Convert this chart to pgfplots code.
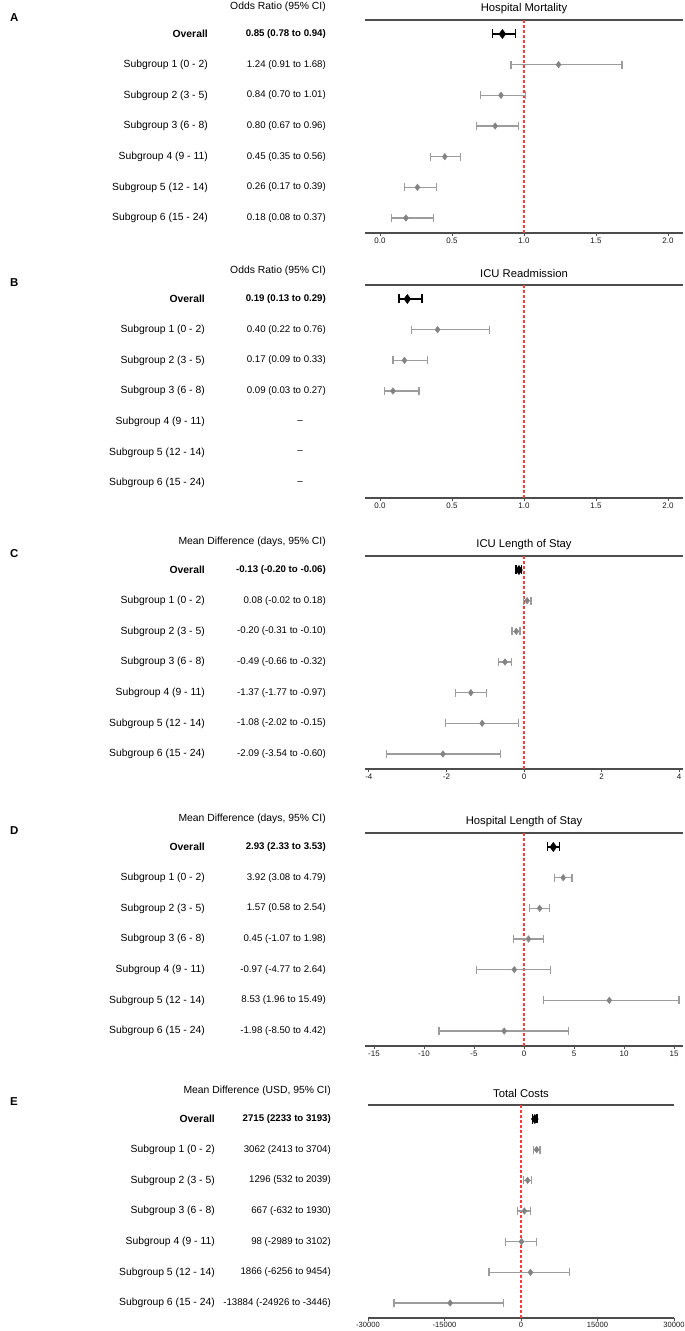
\documentclass[border=0pt]{standalone}
\usepackage{pgfplots}
\pgfplotsset{compat=1.18}
\usepackage{fontspec}
\setmainfont{Liberation Sans}

\definecolor{axcol}{HTML}{4D4D4D}
\definecolor{barcol}{HTML}{9C9C9C}
\definecolor{ptcol}{HTML}{838383}
\definecolor{refred}{HTML}{FF3B3B}

\newcommand\labf{\fontsize{10.4}{12}\selectfont}
\newcommand\valf{\fontsize{9.7}{11}\selectfont}
\newcommand\ttlf{\fontsize{11.3}{13}\selectfont}
\newcommand\tickf{\fontsize{8}{9}\selectfont}
\newcommand\letf{\fontsize{11.5}{13}\selectfont\bfseries}

\pgfplotsset{
  forest/.style={scale only axis, width=318bp, height=213bp, anchor=south west,
    ymin=0.511, ymax=7.456, ytick=\empty, clip=false, scaled x ticks=false,
    separate axis lines, y axis line style={draw=none},
    x axis line style={draw=axcol, line width=1.1bp},
    xtick pos=bottom, tick align=outside, major tick length=3bp,
    xtick style={draw=axcol, line width=0.9bp},
    xticklabel style={font=\tickf, text=black!90, inner sep=2bp}},
  refline/.style={refred, line width=1.1bp, dash pattern=on 3bp off 2bp, forget plot},
  sub/.style={only marks, mark=diamond*, mark size=3.3bp, ptcol,
    mark options={fill=ptcol, draw=ptcol},
    error bars/.cd, x dir=both, x explicit, error mark=|,
    error bar style={line width=1.5bp, barcol},
    error mark options={line width=1.3bp, barcol, mark size=4bp}},
  ovr/.style={only marks, mark=diamond*, mark size=4.6bp, black,
    mark options={fill=black},
    error bars/.cd, x dir=both, x explicit, error mark=|,
    error bar style={line width=2bp, black},
    error mark options={line width=1.6bp, black, mark size=4.5bp}},
  table/ci/.style={x=est, y=y,
    x error minus expr=\thisrow{est}-\thisrow{lo},
    x error plus expr=\thisrow{hi}-\thisrow{est}},
}

\begin{document}
\begin{tikzpicture}
\path[use as bounding box] (0,0) rectangle (685bp,-1331bp);

% ---------------- A ----------------
\begin{scope}[yshift=-20bp]
\node[font=\letf, anchor=west, inner sep=0] at (10bp,2bp) {A};
\node[font=\labf, anchor=east, inner sep=0] at (326bp,13bp) {Odds Ratio (95\% CI)};
\node[font=\labf\bfseries, anchor=east, inner sep=0] at (208bp,-14bp) {Overall};
\node[font=\valf\bfseries, anchor=east, inner sep=0] at (326bp,-14bp) {0.85 (0.78 to 0.94)};
\foreach \l/\v [count=\i] in {Subgroup 1 (0 - 2)/1.24 (0.91 to 1.68),
  Subgroup 2 (3 - 5)/0.84 (0.70 to 1.01), Subgroup 3 (6 - 8)/0.80 (0.67 to 0.96),
  Subgroup 4 (9 - 11)/0.45 (0.35 to 0.56), Subgroup 5 (12 - 14)/0.26 (0.17 to 0.39),
  Subgroup 6 (15 - 24)/0.18 (0.08 to 0.37)}{
  \node[font=\labf, anchor=east, inner sep=0] at (208bp,{-14bp-30.67bp*\i}) {\l};
  \node[font=\valf, anchor=east, inner sep=0] at (326bp,{-14bp-30.67bp*\i}) {\v};
}
\node[font=\ttlf] at (524bp,11.5bp) {Hospital Mortality};
\begin{axis}[forest, at={(365bp,-213bp)}, xmin=-0.104, xmax=2.104,
  xtick={0,0.5,1,1.5,2}, xticklabels={0.0,0.5,1.0,1.5,2.0}]
\addplot[refline] coordinates {(1,0.511) (1,7.456)};
\addplot[sub] table[ci] {
y est lo hi
6 1.24 0.91 1.68
5 0.84 0.70 1.01
4 0.80 0.67 0.96
3 0.45 0.35 0.56
2 0.26 0.17 0.39
1 0.18 0.08 0.37
};
\addplot[ovr] table[ci] {
y est lo hi
7 0.85 0.78 0.94
};
\end{axis}
\end{scope}

% ---------------- B ----------------
\begin{scope}[yshift=-285bp]
\node[font=\letf, anchor=west, inner sep=0] at (10bp,2bp) {B};
\node[font=\labf, anchor=east, inner sep=0] at (326bp,14bp) {Odds Ratio (95\% CI)};
\node[font=\labf\bfseries, anchor=east, inner sep=0] at (205bp,-14bp) {Overall};
\node[font=\valf\bfseries, anchor=east, inner sep=0] at (326bp,-14bp) {0.19 (0.13 to 0.29)};
\foreach \l/\v [count=\i] in {Subgroup 1 (0 - 2)/0.40 (0.22 to 0.76),
  Subgroup 2 (3 - 5)/0.17 (0.09 to 0.33), Subgroup 3 (6 - 8)/0.09 (0.03 to 0.27)}{
  \node[font=\labf, anchor=east, inner sep=0] at (205bp,{-14bp-30.67bp*\i}) {\l};
  \node[font=\valf, anchor=east, inner sep=0] at (326bp,{-14bp-30.67bp*\i}) {\v};
}
\foreach \l [count=\i from 4] in {Subgroup 4 (9 - 11), Subgroup 5 (12 - 14), Subgroup 6 (15 - 24)}{
  \node[font=\labf, anchor=east, inner sep=0] at (205bp,{-14bp-30.67bp*\i}) {\l};
  \node[font=\valf, inner sep=0] at (300bp,{-14bp-30.67bp*\i}) {–};
}
\node[font=\ttlf] at (524bp,11.5bp) {ICU Readmission};
\begin{axis}[forest, at={(365bp,-213bp)}, xmin=-0.104, xmax=2.104,
  xtick={0,0.5,1,1.5,2}, xticklabels={0.0,0.5,1.0,1.5,2.0}]
\addplot[refline] coordinates {(1,0.511) (1,7.456)};
\addplot[sub] table[ci] {
y est lo hi
6 0.40 0.22 0.76
5 0.17 0.09 0.33
4 0.09 0.03 0.27
};
\addplot[ovr] table[ci] {
y est lo hi
7 0.19 0.13 0.29
};
\end{axis}
\end{scope}

% ---------------- C ----------------
\begin{scope}[yshift=-556bp]
\node[font=\letf, anchor=west, inner sep=0] at (10bp,2bp) {C};
\node[font=\labf, anchor=east, inner sep=0] at (326bp,14bp) {Mean Difference (days, 95\% CI)};
\node[font=\labf\bfseries, anchor=east, inner sep=0] at (205bp,-14bp) {Overall};
\node[font=\valf\bfseries, anchor=east, inner sep=0] at (326bp,-14bp) {-0.13 (-0.20 to -0.06)};
\foreach \l/\v [count=\i] in {Subgroup 1 (0 - 2)/0.08 (-0.02 to 0.18),
  Subgroup 2 (3 - 5)/-0.20 (-0.31 to -0.10), Subgroup 3 (6 - 8)/-0.49 (-0.66 to -0.32),
  Subgroup 4 (9 - 11)/-1.37 (-1.77 to -0.97), Subgroup 5 (12 - 14)/-1.08 (-2.02 to -0.15),
  Subgroup 6 (15 - 24)/-2.09 (-3.54 to -0.60)}{
  \node[font=\labf, anchor=east, inner sep=0] at (205bp,{-14bp-30.67bp*\i}) {\l};
  \node[font=\valf, anchor=east, inner sep=0] at (326bp,{-14bp-30.67bp*\i}) {\v};
}
\node[font=\ttlf] at (524bp,11.5bp) {ICU Length of Stay};
\begin{axis}[forest, at={(365bp,-213bp)}, xmin=-4.1, xmax=4.1,
  xtick={-4,-2,0,2,4}, xticklabels={-4,-2,0,2,4}]
\addplot[refline] coordinates {(0,0.511) (0,7.456)};
\addplot[sub] table[ci] {
y est lo hi
6 0.08 -0.02 0.18
5 -0.20 -0.31 -0.10
4 -0.49 -0.66 -0.32
3 -1.37 -1.77 -0.97
2 -1.08 -2.02 -0.15
1 -2.09 -3.54 -0.60
};
\addplot[ovr] table[ci] {
y est lo hi
7 -0.13 -0.20 -0.06
};
\end{axis}
\end{scope}

% ---------------- D ----------------
\begin{scope}[yshift=-833bp]
\node[font=\letf, anchor=west, inner sep=0] at (10bp,2bp) {D};
\node[font=\labf, anchor=east, inner sep=0] at (326bp,14bp) {Mean Difference (days, 95\% CI)};
\node[font=\labf\bfseries, anchor=east, inner sep=0] at (205bp,-14bp) {Overall};
\node[font=\valf\bfseries, anchor=east, inner sep=0] at (326bp,-14bp) {2.93 (2.33 to 3.53)};
\foreach \l/\v [count=\i] in {Subgroup 1 (0 - 2)/3.92 (3.08 to 4.79),
  Subgroup 2 (3 - 5)/1.57 (0.58 to 2.54), Subgroup 3 (6 - 8)/0.45 (-1.07 to 1.98),
  Subgroup 4 (9 - 11)/-0.97 (-4.77 to 2.64), Subgroup 5 (12 - 14)/8.53 (1.96 to 15.49),
  Subgroup 6 (15 - 24)/-1.98 (-8.50 to 4.42)}{
  \node[font=\labf, anchor=east, inner sep=0] at (205bp,{-14bp-30.67bp*\i}) {\l};
  \node[font=\valf, anchor=east, inner sep=0] at (326bp,{-14bp-30.67bp*\i}) {\v};
}
\node[font=\ttlf] at (524bp,11.5bp) {Hospital Length of Stay};
\begin{axis}[forest, at={(365bp,-213bp)}, xmin=-15.9, xmax=15.9,
  xtick={-15,-10,-5,0,5,10,15}, xticklabels={-15,-10,-5,0,5,10,15}]
\addplot[refline] coordinates {(0,0.511) (0,7.456)};
\addplot[sub] table[ci] {
y est lo hi
6 3.92 3.08 4.79
5 1.57 0.58 2.54
4 0.45 -1.07 1.98
3 -0.97 -4.77 2.64
2 8.53 1.96 15.49
1 -1.98 -8.50 4.42
};
\addplot[ovr] table[ci] {
y est lo hi
7 2.93 2.33 3.53
};
\end{axis}
\end{scope}

% ---------------- E ----------------
\begin{scope}[yshift=-1105bp]
\node[font=\letf, anchor=west, inner sep=0] at (10bp,3bp) {E};
\node[font=\labf, anchor=east, inner sep=0] at (331bp,14bp) {Mean Difference (USD, 95\% CI)};
\node[font=\labf\bfseries, anchor=east, inner sep=0] at (215bp,-14bp) {Overall};
\node[font=\valf\bfseries, anchor=east, inner sep=0] at (331bp,-14bp) {2715 (2233 to 3193)};
\foreach \l/\v [count=\i] in {Subgroup 1 (0 - 2)/3062 (2413 to 3704),
  Subgroup 2 (3 - 5)/1296 (532 to 2039), Subgroup 3 (6 - 8)/667 (-632 to 1930),
  Subgroup 4 (9 - 11)/98 (-2989 to 3102), Subgroup 5 (12 - 14)/1866 (-6256 to 9454),
  Subgroup 6 (15 - 24)/-13884 (-24926 to -3446)}{
  \node[font=\labf, anchor=east, inner sep=0] at (215bp,{-14bp-30.67bp*\i}) {\l};
  \node[font=\valf, anchor=east, inner sep=0] at (331bp,{-14bp-30.67bp*\i}) {\v};
}
\node[font=\ttlf] at (521bp,11.5bp) {Total Costs};
\begin{axis}[forest, width=306bp, at={(368bp,-213bp)}, xmin=-30000, xmax=30000,
  xtick={-30000,-15000,0,15000,30000},
  xticklabels={-30000,-15000,0,15000,30000},
  xticklabel style={inner sep=1bp, font=\fontsize{7.6}{8}\selectfont}]
\addplot[refline] coordinates {(0,0.511) (0,7.456)};
\addplot[sub] table[ci] {
y est lo hi
6 3062 2413 3704
5 1296 532 2039
4 667 -632 1930
3 98 -2989 3102
2 1866 -6256 9454
1 -13884 -24926 -3446
};
\addplot[ovr] table[ci] {
y est lo hi
7 2715 2233 3193
};
\end{axis}
\end{scope}
\end{tikzpicture}
\end{document}
